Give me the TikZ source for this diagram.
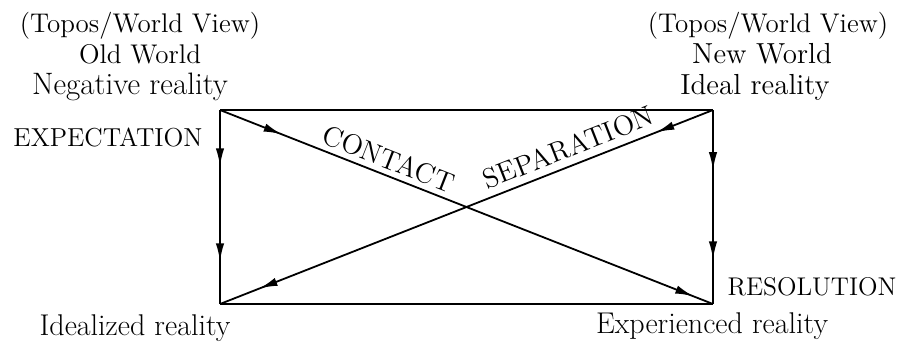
\documentclass[tikz,border=0pt]{standalone}
\usetikzlibrary{arrows.meta,decorations.markings}
\begin{document}
\begin{tikzpicture}[x=0.5pt,y=-0.5pt,
  txt/.style={anchor=base,inner sep=0pt,font=\fontsize{13.5}{16}\selectfont},
  edge/.style={line width=0.9pt},
  twoarrows/.style 2 args={edge,postaction={decorate},
    decoration={markings,
      mark=at position #1 with {\arrow{Latex[length=9pt,width=4.2pt]}},
      mark=at position #2 with {\arrow{Latex[length=9pt,width=4.2pt]}}}},
  diaglabel/.style={sloped,above,inner sep=2.5pt,font=\fontsize{14}{16}\selectfont}]
\useasboundingbox (0,0) rectangle (904,344);
% corners
\coordinate (tl) at (220,110);
\coordinate (tr) at (713,110);
\coordinate (bl) at (220,304);
\coordinate (br) at (713,304);
% texts left
\node[txt] (tw1) at (140,32) {(Topos/World View)};
\node[txt] (old) at (140,63) {Old World};
\node[txt,font=\fontsize{15.5}{18}\selectfont] (neg) at (130,94) {Negative reality};
\node[txt,font=\fontsize{13}{16}\selectfont] (exp) at (108,146) {EXPECTATION};
% texts right
\node[txt] (tw2) at (768,32) {(Topos/World View)};
\node[txt,font=\fontsize{14.5}{18}\selectfont] (new) at (762,63) {New World};
\node[txt,font=\fontsize{14.5}{18}\selectfont] (ideal) at (755,94) {Ideal reality};
\node[txt,font=\fontsize{12.8}{16}\selectfont] (res) at (812,295) {RESOLUTION};
% bottom texts
\node[txt,font=\fontsize{15}{18}\selectfont] (idz) at (135,335) {Idealized reality};
\node[txt,font=\fontsize{15}{18}\selectfont] (expd) at (712,333) {Experienced reality};
% rectangle
\draw[edge] (tl) -- (tr);
\draw[edge] (bl) -- (br);
\draw[twoarrows={0.29}{0.78}] (tl) -- (bl);
\draw[twoarrows={0.31}{0.77}] (tr) -- (br);
% diagonals
\draw[twoarrows={0.125}{0.96}] (tl) -- (br)
  node[diaglabel,pos=0.33] (contact) {CONTACT};
\draw[twoarrows={0.115}{0.92}] (tr) -- (bl)
  node[diaglabel,pos=0.28,inner sep=3.5pt] (sep) {SEPARATION};
\end{tikzpicture}
\end{document}
